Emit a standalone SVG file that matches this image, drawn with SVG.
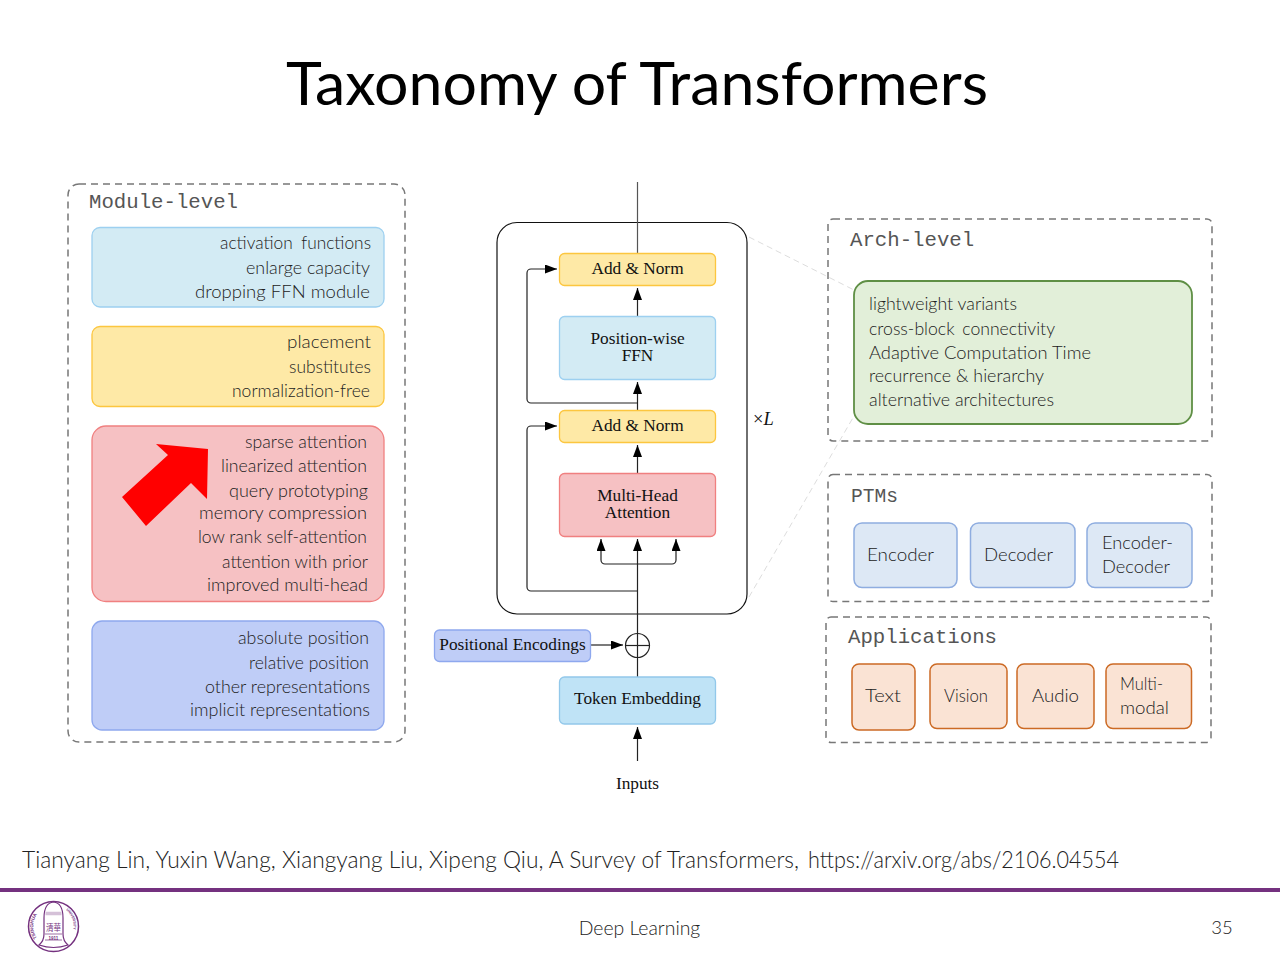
<svg xmlns="http://www.w3.org/2000/svg" width="1280" height="960" viewBox="0 0 1280 960">
<style>
text{font-family:"Lato","Noto Sans",sans-serif;font-weight:300;fill:#222}
.t{font-size:18px;text-anchor:end}
.l{font-size:18px}
.m{font-family:"Liberation Mono",monospace;font-weight:400;font-size:20.7px;fill:#555}
.s{font-family:"Liberation Serif",serif;font-weight:400;font-size:17.3px;fill:#111;text-anchor:middle}
.dash{fill:none;stroke:#777;stroke-width:1.5;stroke-dasharray:7 5}
.c{fill:none;stroke:#222;stroke-width:1.2}
.g{fill:none;stroke:#ddd;stroke-width:1;stroke-dasharray:6 4}
.blue{fill:#d3ebf4;stroke:#9dd0f0;stroke-width:1.3}
.yel{fill:#fee9a6;stroke:#fcc63f;stroke-width:1.3}
.red{fill:#f6c1c3;stroke:#f08080;stroke-width:1.3}
.per{fill:#bfcdf7;stroke:#8ea8ee;stroke-width:1.3}
.sky{fill:#bfe3f6;stroke:#92c8ea;stroke-width:1.3}
.ptm{fill:#dde8f5;stroke:#8fade0;stroke-width:1.5}
.app{fill:#fae3d4;stroke:#cc6a24;stroke-width:1.5}
.logo{font-family:"Liberation Sans",sans-serif;font-weight:700;fill:#74317f;stroke:none}
</style>
<defs>
<marker id="a" markerUnits="userSpaceOnUse" markerWidth="13" markerHeight="9" refX="12" refY="4.5" orient="auto"><path d="M0 0L12 4.5L0 9Z" fill="#000"/></marker>
<path id="arcL" d="M37 938A20 20 0 0 1 43 909"/>
<path id="arcR" d="M66 910A20 20 0 0 1 70 937"/>
</defs>
<rect width="1280" height="960" fill="#fff"/>
<text id="title" x="286" y="105" font-size="60" style="font-weight:400;fill:#000" textLength="702" lengthAdjust="spacingAndGlyphs">Taxonomy of Transformers</text>

<g id="module-level">
<rect class="dash" x="68" y="184" width="337" height="558" rx="11"/>
<text class="m" x="89" y="208">Module-level</text>
</g>
<g id="module-activation">
<rect class="blue" x="92" y="227.500" width="292" height="79.500" rx="8"/>
<text class="t" x="371" y="249" textLength="151" lengthAdjust="spacingAndGlyphs" word-spacing="4">activation functions</text>
<text class="t" x="370" y="274" textLength="124" lengthAdjust="spacingAndGlyphs">enlarge capacity</text>
<text class="t" x="370" y="298" textLength="175" lengthAdjust="spacingAndGlyphs">dropping FFN module</text>
</g>
<g id="module-norm">
<rect class="yel" x="92" y="326.500" width="292" height="80" rx="8"/>
<text class="t" x="371" y="348" textLength="84" lengthAdjust="spacingAndGlyphs">placement</text>
<text class="t" x="371" y="373" textLength="82" lengthAdjust="spacingAndGlyphs">substitutes</text>
<text class="t" x="370" y="397" textLength="138" lengthAdjust="spacingAndGlyphs">normalization-free</text>
</g>
<g id="module-attention">
<rect class="red" x="92" y="426" width="292" height="175.500" rx="14"/>
<text class="t" x="367" y="448" textLength="122" lengthAdjust="spacingAndGlyphs">sparse attention</text>
<text class="t" x="367" y="472" textLength="146" lengthAdjust="spacingAndGlyphs">linearized attention</text>
<text class="t" x="368" y="497" textLength="139" lengthAdjust="spacingAndGlyphs">query prototyping</text>
<text class="t" x="367" y="519" textLength="168" lengthAdjust="spacingAndGlyphs">memory compression</text>
<text class="t" x="367" y="543" textLength="169" lengthAdjust="spacingAndGlyphs">low rank self-attention</text>
<text class="t" x="368" y="568" textLength="146" lengthAdjust="spacingAndGlyphs">attention with prior</text>
<text class="t" x="368" y="591" textLength="161" lengthAdjust="spacingAndGlyphs">improved multi-head</text>
<path id="red-arrow" d="M156 444L208 449L207 499L191 483L146 526L122 497L168 455Z" fill="#f00"/>
</g>
<g id="module-position">
<rect class="per" x="92" y="621" width="292" height="109" rx="10"/>
<text class="t" x="369" y="644" textLength="131" lengthAdjust="spacingAndGlyphs">absolute position</text>
<text class="t" x="369" y="669" textLength="120" lengthAdjust="spacingAndGlyphs">relative position</text>
<text class="t" x="370" y="693" textLength="165" lengthAdjust="spacingAndGlyphs">other representations</text>
<text class="t" x="370" y="716" textLength="180" lengthAdjust="spacingAndGlyphs">implicit representations</text>
</g>

<g id="connectors">
<rect class="c" x="497" y="222.500" width="250" height="391.500" rx="20" style="stroke:#111"/>
<path class="c" d="M637.500 182V253" style="stroke:#555"/>
<path class="c" d="M637.500 316V288" marker-end="url(#a)"/>
<path class="c" d="M637.500 410V382" marker-end="url(#a)"/>
<path class="c" d="M637.500 473V445" marker-end="url(#a)"/>
<path class="c" d="M637.500 403H531a4 4 0 0 1-4-4V273a4 4 0 0 1 4-4H557" marker-end="url(#a)"/>
<path class="c" d="M637.500 591H531a4 4 0 0 1-4-4V430a4 4 0 0 1 4-4H557" marker-end="url(#a)"/>
<path class="c" d="M637.500 677V539" marker-end="url(#a)"/>
<path class="c" d="M637.500 564H605a4 4 0 0 1-4-4V539" marker-end="url(#a)"/>
<path class="c" d="M637.500 564H672a4 4 0 0 0 4-4V539" marker-end="url(#a)"/>
<path class="c" d="M591 645H623" marker-end="url(#a)"/>
<path class="c" d="M637.500 761V727" marker-end="url(#a)"/>
<circle class="c" cx="637.500" cy="645.500" r="12"/>
<path class="c" d="M625.500 645.500H649.500"/>
<path class="g" d="M749 237L854 290"/>
<path class="g" d="M749 597L854 416"/>
</g>
<text id="times-l" x="753" y="425" font-size="18.500" style="font-family:'Liberation Serif',serif;font-weight:400;fill:#111">×<tspan font-style="italic">L</tspan></text>

<g id="add-norm-2"><rect class="yel" x="559.500" y="253.500" width="156" height="32" rx="5"/><text class="s" x="637.500" y="273.500">Add &amp; Norm</text></g>
<g id="ffn"><rect class="blue" x="559.500" y="316.500" width="156" height="63" rx="5"/><text class="s" x="637.500" y="344">Position-wise</text><text class="s" x="637.500" y="361">FFN</text></g>
<g id="add-norm-1"><rect class="yel" x="559.500" y="410.500" width="156" height="32" rx="5"/><text class="s" x="637.500" y="430.500">Add &amp; Norm</text></g>
<g id="mha"><rect class="red" x="559.500" y="473.500" width="156" height="63" rx="5"/><text class="s" x="637.500" y="501">Multi-Head</text><text class="s" x="637.500" y="518">Attention</text></g>
<g id="pos-enc"><rect class="per" x="434.500" y="630" width="156" height="31.500" rx="5"/><text class="s" x="512.500" y="650">Positional Encodings</text></g>
<g id="token-emb"><rect class="sky" x="559.500" y="677" width="156" height="47" rx="5"/><text class="s" x="637.500" y="704">Token Embedding</text></g>
<text id="inputs" class="s" x="637.500" y="789">Inputs</text>

<g id="arch-level">
<rect class="dash" x="828" y="219" width="384" height="222" rx="5"/>
<text class="m" x="850" y="246">Arch-level</text>
</g>
<g id="arch-box">
<rect x="854" y="281" width="338" height="143" rx="14" fill="#e2efd9" stroke="#5f8f45" stroke-width="1.800"/>
<text class="l" x="869" y="310" textLength="148" lengthAdjust="spacingAndGlyphs">lightweight variants</text>
<text class="l" x="869" y="335" textLength="186" lengthAdjust="spacingAndGlyphs" word-spacing="3">cross-block connectivity</text>
<text class="l" x="869" y="359" textLength="222" lengthAdjust="spacingAndGlyphs">Adaptive Computation Time</text>
<text class="l" x="869" y="382" textLength="175" lengthAdjust="spacingAndGlyphs">recurrence &amp; hierarchy</text>
<text class="l" x="869" y="406" textLength="185" lengthAdjust="spacingAndGlyphs">alternative architectures</text>
</g>
<g id="ptms">
<rect class="dash" x="828" y="474.500" width="384" height="127" rx="5"/>
<text class="m" x="851" y="502" textLength="47" lengthAdjust="spacingAndGlyphs">PTMs</text>
</g>
<g id="ptm-encoder"><rect class="ptm" x="854" y="523" width="103" height="64.500" rx="8"/><text class="l" x="867" y="561" textLength="67" lengthAdjust="spacingAndGlyphs">Encoder</text></g>
<g id="ptm-decoder"><rect class="ptm" x="970.500" y="523" width="104.500" height="64.500" rx="8"/><text class="l" x="984" y="561" textLength="69" lengthAdjust="spacingAndGlyphs">Decoder</text></g>
<g id="ptm-encdec"><rect class="ptm" x="1087" y="523" width="105" height="64.500" rx="8"/><text class="l" x="1102" y="549" textLength="71" lengthAdjust="spacingAndGlyphs">Encoder-</text><text class="l" x="1102" y="573" textLength="68" lengthAdjust="spacingAndGlyphs">Decoder</text></g>
<g id="applications">
<rect class="dash" x="826" y="617" width="385" height="125.500" rx="5"/>
<text class="m" x="848" y="643">Applications</text>
</g>
<g id="app-text"><rect class="app" x="852" y="664" width="63" height="66" rx="7"/><text class="l" x="865" y="702" textLength="36" lengthAdjust="spacingAndGlyphs">Text</text></g>
<g id="app-vision"><rect class="app" x="930" y="664" width="77" height="64.500" rx="7"/><text class="l" x="944" y="702" textLength="44" lengthAdjust="spacingAndGlyphs">Vision</text></g>
<g id="app-audio"><rect class="app" x="1017" y="664" width="77" height="64.500" rx="7"/><text class="l" x="1032" y="702" textLength="47" lengthAdjust="spacingAndGlyphs">Audio</text></g>
<g id="app-multi"><rect class="app" x="1106" y="664" width="85.500" height="64.500" rx="7"/><text class="l" x="1120" y="690" textLength="43" lengthAdjust="spacingAndGlyphs">Multi-</text><text class="l" x="1120" y="714" textLength="49" lengthAdjust="spacingAndGlyphs">modal</text></g>

<text id="citation" x="22" y="868" font-size="24" textLength="777" lengthAdjust="spacingAndGlyphs">Tianyang Lin, Yuxin Wang, Xiangyang Liu, Xipeng Qiu, A Survey of Transformers,</text>
<text id="citation-url" x="808" y="868" font-size="24" textLength="311" lengthAdjust="spacingAndGlyphs">https://arxiv.org/abs/2106.04554</text>
<rect id="rule" x="0" y="888" width="1280" height="4" fill="#74317f"/>
<g id="logo" fill="none" stroke="#74317f">
<circle cx="53.500" cy="926.500" r="25" stroke-width="1.500"/>
<path d="M39 945Q44 941 44 934V918Q44 903 53.500 902Q63 903 63 918V934Q63 941 68 945Q53.500 950 39 945Z" fill="#fff" stroke-width="1.200"/>
<path d="M45.500 913.500H61.500" stroke-width="3.500" stroke-opacity="0.300"/>
<path d="M45 934H62M45 940H62" stroke-width="0.700"/>
<text class="logo" x="53.500" y="931" font-size="9" text-anchor="middle" textLength="15" lengthAdjust="spacingAndGlyphs" style="font-family:'Noto Sans CJK TC',sans-serif;font-weight:400">清華</text>
<text class="logo" x="53.500" y="939.500" font-size="4.500" text-anchor="middle">1911</text>
<text class="logo" font-size="4.800"><textPath href="#arcL">TSINGHUA</textPath></text>
<text class="logo" font-size="3.600"><textPath href="#arcR">UNIVERSITY</textPath></text>
</g>
<text id="footer" x="639.500" y="935" font-size="19.400" text-anchor="middle">Deep Learning</text>
<text id="page" x="1222" y="934" font-size="18.500" text-anchor="middle">35</text>
</svg>
